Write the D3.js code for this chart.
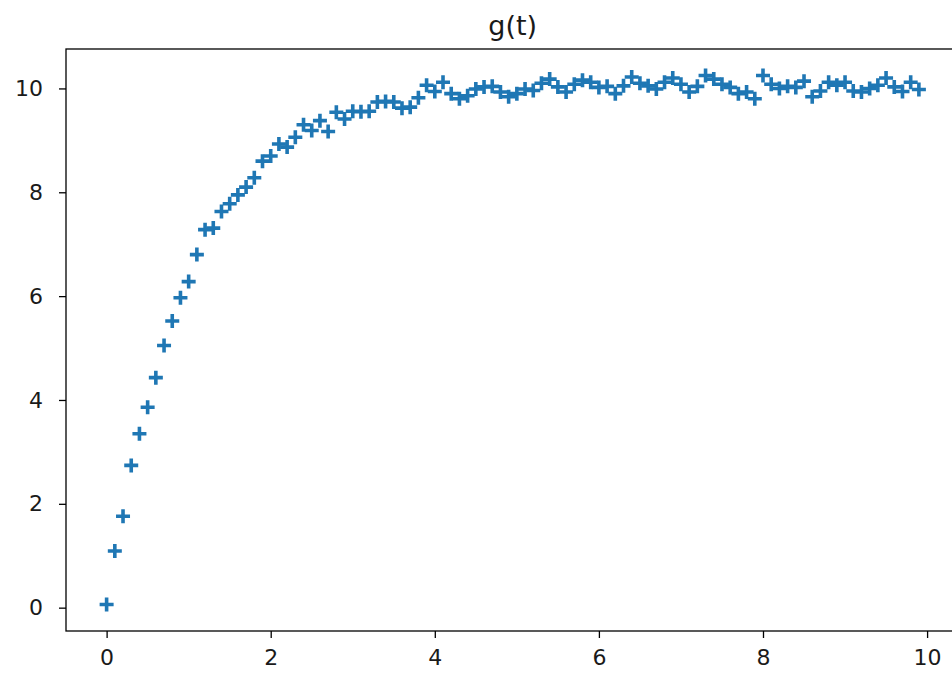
<!DOCTYPE html>
<head>
  <meta charset="utf-8">
  <title>g(t)</title>
</head>
<style>
  body {
    margin: 0;
    background: #fff;
    overflow: hidden;
  }
  svg text {
    font-family: "DejaVu Sans", sans-serif;
    fill: #1a1a1a;
  }
  .tick line {
    stroke: #000;
    stroke-width: 1.3px;
  }
  .tick text {
    font-size: 22px;
  }
  .marker {
    stroke: #1f77b4;
    stroke-width: 3.6px;
    fill: none;
  }
</style>
<body>
  <svg id="chart" width="952" height="676"></svg>
<script src="https://cdn.jsdelivr.net/npm/d3@7/dist/d3.min.js"></script>
<script>
  // t = 0.0, 0.1, ... 9.9
  var tValues = d3.range(100).map(i => i / 10);
  var gValues = [
    0.06, 1.09, 1.76, 2.74, 3.35, 3.86, 4.43, 5.05, 5.52, 5.97,
    6.28, 6.80, 7.28, 7.31, 7.63, 7.78, 7.95, 8.10, 8.28, 8.60,
    8.70, 8.93, 8.87, 9.06, 9.30, 9.19, 9.38, 9.17, 9.54, 9.41,
    9.56, 9.55, 9.56, 9.74, 9.75, 9.74, 9.62, 9.64, 9.82, 10.06,
    9.94, 10.12, 9.90, 9.80, 9.86, 9.99, 10.03, 10.04, 9.93, 9.84,
    9.90, 9.99, 9.96, 10.10, 10.18, 10.03, 9.93, 10.08, 10.16, 10.12,
    10.02, 10.04, 9.90, 10.05, 10.22, 10.10, 10.05, 9.99, 10.12, 10.20,
    10.08, 9.93, 10.04, 10.25, 10.18, 10.08, 10.02, 9.90, 9.93, 9.80,
    10.25, 10.08, 10.00, 10.04, 10.02, 10.14, 9.84, 9.95, 10.12, 10.06,
    10.12, 9.95, 9.93, 10.00, 10.06, 10.20, 10.03, 9.94, 10.12, 9.98
  ];
  var xTicks = [0, 2, 4, 6, 8, 10];
  var yTicks = [0, 2, 4, 6, 8, 10];
  var title = "g(t)";

  var svg = d3.select('#chart');
  var plotLeft = 66, plotRight = 959.5, plotTop = 49, plotBottom = 631;

  // matplotlib style 5% margins around the data
  var xmin = d3.min(tValues), xmax = d3.max(tValues);
  var ymin = d3.min(gValues), ymax = d3.max(gValues);
  var xpad = (xmax - xmin) * 0.05, ypad = (ymax - ymin) * 0.05;

  var x = d3.scaleLinear().domain([xmin - xpad, xmax + xpad]).range([plotLeft, plotRight]);
  var y = d3.scaleLinear().domain([ymin - ypad, ymax + ypad]).range([plotBottom, plotTop]);

  var xAxis = d3.axisBottom(x).tickValues(xTicks).tickSize(7).tickPadding(11)
                .tickFormat(d3.format('d'));
  var yAxis = d3.axisLeft(y).tickValues(yTicks).tickSize(7).tickPadding(16)
                .tickFormat(d3.format('d'));

  svg.append('g')
      .attr('transform', 'translate(0,' + plotBottom + ')')
      .call(xAxis)
      .call(g => g.select('.domain').remove());

  svg.append('g')
      .attr('transform', 'translate(' + plotLeft + ',0)')
      .call(yAxis)
      .call(g => g.select('.domain').remove());

  // frame (right spine falls just outside the picture)
  svg.append('rect')
      .attr('x', plotLeft).attr('y', plotTop)
      .attr('width', plotRight - plotLeft).attr('height', plotBottom - plotTop)
      .attr('fill', 'none')
      .attr('stroke', '#000')
      .attr('stroke-width', 1.3);

  // '+' markers
  var s = 7;
  svg.append('g').selectAll('.marker')
      .data(tValues)
    .enter().append('path')
      .attr('class', 'marker')
      .attr('d', (d, i) => {
        var cx = x(d), cy = y(gValues[i]);
        return 'M' + (cx - s) + ',' + cy + 'H' + (cx + s) +
               'M' + cx + ',' + (cy - s) + 'V' + (cy + s);
      });

  svg.append('text')
      .attr('x', (plotLeft + plotRight) / 2)
      .attr('y', 35)
      .attr('text-anchor', 'middle')
      .attr('font-size', 27)
      .text(title);
</script>
</body>
